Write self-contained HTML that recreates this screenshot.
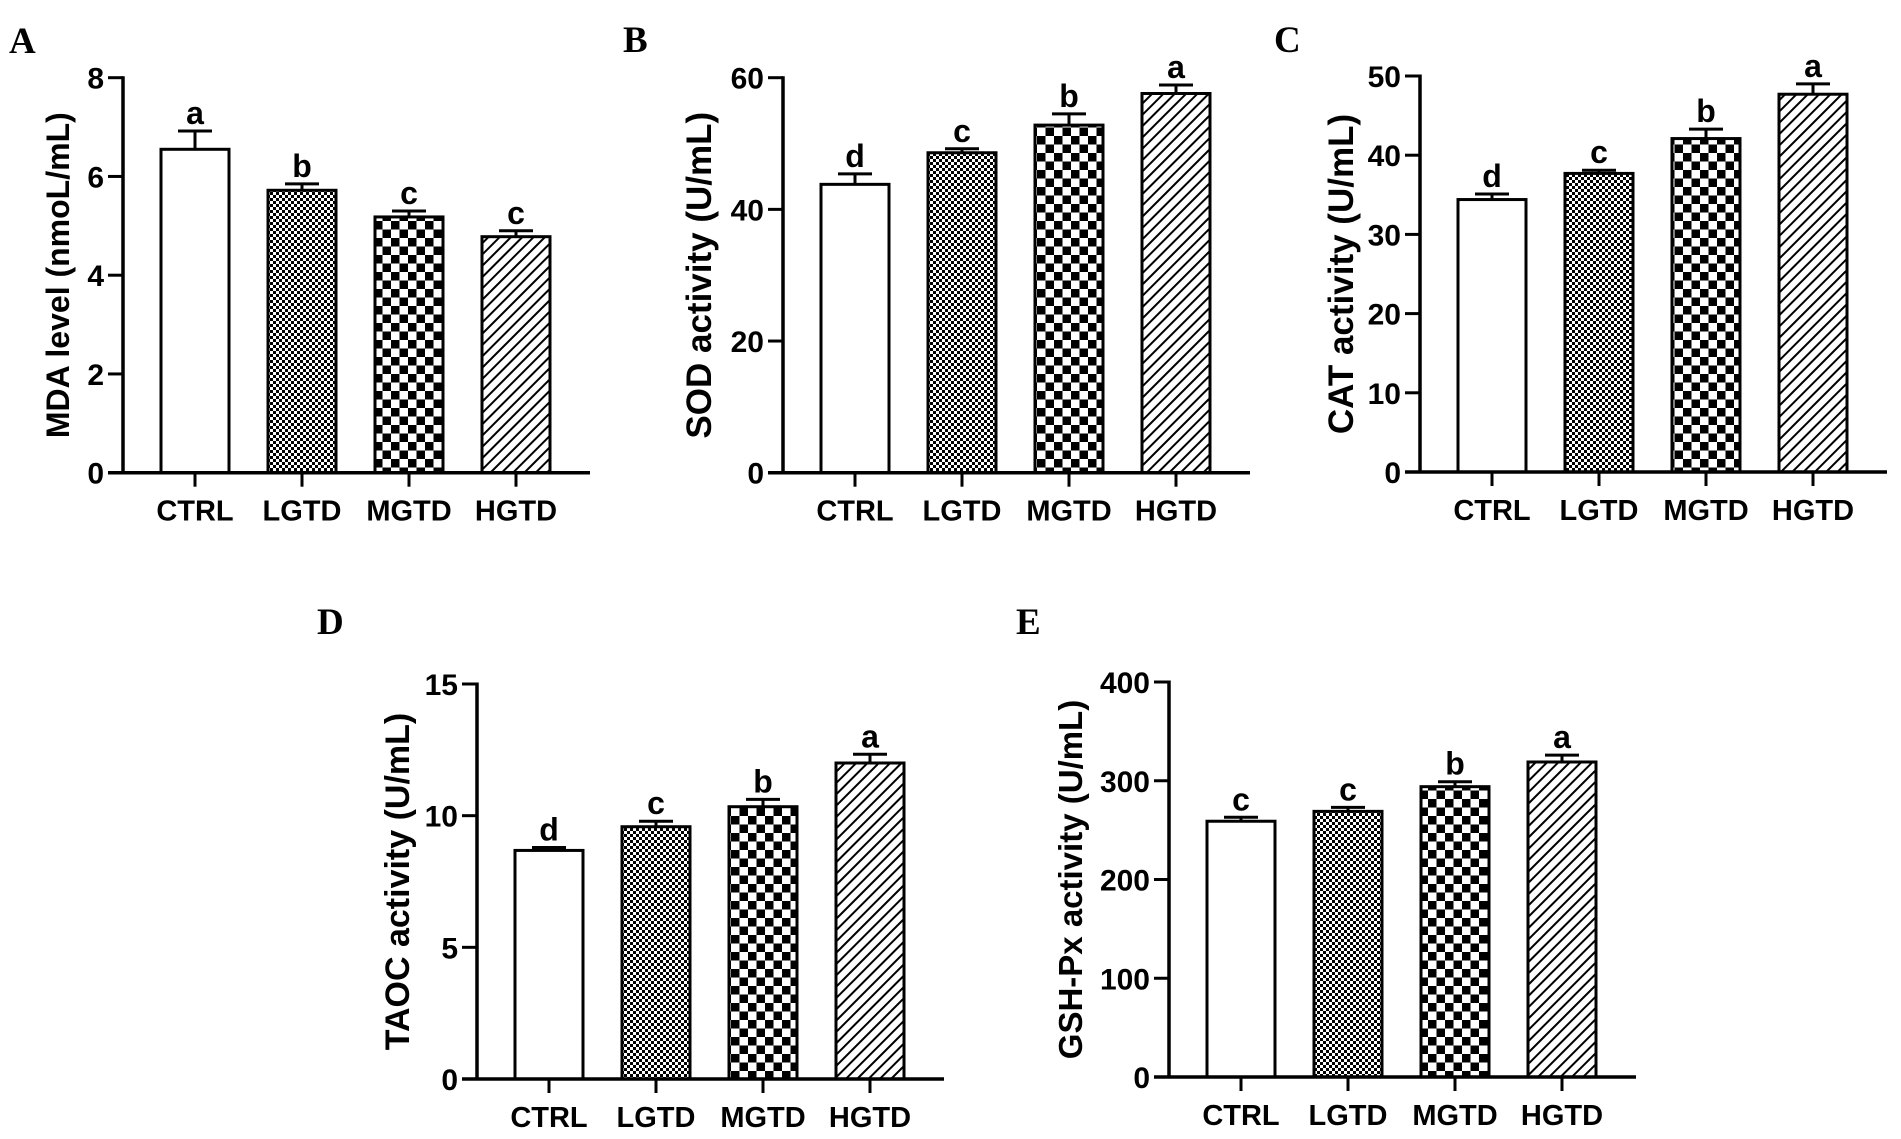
<!DOCTYPE html>
<html><head><meta charset="utf-8">
<style>
html,body{margin:0;padding:0;background:#fff;}
svg{display:block;}
text{font-family:"Liberation Sans",Arial,sans-serif;font-weight:bold;fill:#000;}
.plabel{font-family:"Liberation Serif","Times New Roman",serif;font-weight:bold;font-size:37px;}
</style></head>
<body>
<svg id="fig" width="1901" height="1139" viewBox="0 0 1901 1139" xmlns="http://www.w3.org/2000/svg">
<defs>
<pattern id="fine" width="6" height="6" patternUnits="userSpaceOnUse">
<rect width="6" height="6" fill="#fff"/><rect width="3" height="3" fill="#000"/><rect x="3" y="3" width="3" height="3" fill="#000"/>
</pattern>
<pattern id="coarse" width="17" height="17" patternUnits="userSpaceOnUse">
<rect width="17" height="17" fill="#fff"/><rect width="8.5" height="8.5" fill="#000"/><rect x="8.5" y="8.5" width="8.5" height="8.5" fill="#000"/>
</pattern>
<pattern id="hatch" width="8" height="8" patternUnits="userSpaceOnUse" patternTransform="rotate(45)">
<rect width="8" height="8" fill="#fff"/><rect x="0" y="0" width="2" height="8" fill="#000"/>
</pattern>
</defs>
</svg>
<script>
const categories = ["CTRL","LGTD","MGTD","HGTD"];
const mdaValues = [6.55, 5.72, 5.18, 4.78];
const mdaErrors = [0.37, 0.13, 0.12, 0.12];
const mdaLetters = ["a","b","c","c"];
const mdaTicks = [0,2,4,6,8];
const sodValues = [43.8, 48.6, 52.8, 57.6];
const sodErrors = [1.6, 0.6, 1.7, 1.3];
const sodLetters = ["d","c","b","a"];
const sodTicks = [0,20,40,60];
const catValues = [34.4, 37.7, 42.1, 47.7];
const catErrors = [0.7, 0.4, 1.2, 1.3];
const catLetters = ["d","c","b","a"];
const catTicks = [0,10,20,30,40,50];
const taocValues = [8.68, 9.58, 10.34, 12.0];
const taocErrors = [0.11, 0.21, 0.28, 0.33];
const taocLetters = ["d","c","b","a"];
const taocTicks = [0,5,10,15];
const gshValues = [259, 269, 294, 319];
const gshErrors = [4, 4, 5, 7];
const gshLetters = ["c","c","b","a"];
const gshTicks = [0,100,200,300,400];

const fills = ["#fff","url(#fine)","url(#coarse)","url(#hatch)"];
const NS = "http://www.w3.org/2000/svg";
const svg = document.getElementById('fig');
function mk(tag, attrs, parent){
  const e = document.createElementNS(NS, tag);
  for (const k in attrs) e.setAttribute(k, attrs[k]);
  (parent||svg).appendChild(e);
  return e;
}
function panel(cfg){
  const g = mk('g', {});
  
  
  const ax = cfg.ax, y0 = cfg.y0, yTop = cfg.yTop, max = cfg.ticks[cfg.ticks.length-1];
  const yScale = v => y0 - (v/max)*(y0 - yTop);
  const xCenter = i => ax + 72 + i*107;
  const bw = 68;
  const pl = mk('text', {x: cfg.lx, y: cfg.ly, class:'plabel'}, g);
  pl.textContent = cfg.id;
  
  
  cfg.values.forEach((v,i)=>{
    const cx = xCenter(i), yt = yScale(v), ye = yScale(v + cfg.errors[i]);
    const r = mk('rect', {x: cx-bw/2, y: yt, width: bw, height: y0-yt, fill: fills[i], stroke:'#000', 'stroke-width':3}, g);
    
    
    const eb = mk('path', {d:`M${cx} ${yt} V${ye} M${cx-17} ${ye} H${cx+17}`, stroke:'#000','stroke-width':3, fill:'none'}, g);
    
    
    const lt = mk('text', {x: cx, y: ye-7, 'text-anchor':'middle', 'font-size':32}, g);
    lt.textContent = cfg.letters[i];
    
    
    const tk = mk('line', {x1:cx, x2:cx, y1:y0, y2:y0+14, stroke:'#000','stroke-width':3}, g);
    
    
    const cl = mk('text', {x: cx, y: y0+48, 'text-anchor':'middle', 'font-size':29}, g);
    cl.textContent = categories[i];
    
    
  });
  const yAxis = mk('line', {x1:ax, x2:ax, y1:yTop-1.5, y2:y0+1.5, stroke:'#000','stroke-width':3.5}, g);
  
  
  const xAxis = mk('line', {x1:ax-15, x2:ax+467, y1:y0, y2:y0, stroke:'#000','stroke-width':3.5}, g);
  
  
  cfg.ticks.forEach(t=>{
    const y = yScale(t);
    const tl = mk('line', {x1:ax-15, x2:ax, y1:y, y2:y, stroke:'#000','stroke-width':3}, g);
    
    
    const tt = mk('text', {x: ax-19, y: y+11, 'text-anchor':'end', 'font-size':30}, g);
    tt.textContent = t;
    
    
  });
  const cy = (y0+yTop)/2;
  const ti = mk('text', {x: cfg.tx, y: cy, 'text-anchor':'middle', 'font-size':cfg.tf, transform:`rotate(-90 ${cfg.tx} ${cy})`, dy: 11}, g);
  ti.textContent = cfg.title;
  
  
}
panel({id:'A', ax:123, y0:472.7, yTop:77.7, ticks:mdaTicks, values:mdaValues, errors:mdaErrors, letters:mdaLetters, title:'MDA level (nmoL/mL)', tx:58, lx:9, ly:53, tf:32});
panel({id:'B', ax:783, y0:472.7, yTop:77.7, ticks:sodTicks, values:sodValues, errors:sodErrors, letters:sodLetters, title:'SOD activity (U/mL)', tx:700, lx:623, ly:52, tf:35});
panel({id:'C', ax:1420, y0:472, yTop:76, ticks:catTicks, values:catValues, errors:catErrors, letters:catLetters, title:'CAT activity (U/mL)', tx:1342, lx:1274, ly:52, tf:35});
panel({id:'D', ax:477, y0:1079, yTop:684, ticks:taocTicks, values:taocValues, errors:taocErrors, letters:taocLetters, title:'TAOC activity (U/mL)', tx:398, lx:317, ly:634, tf:34});
panel({id:'E', ax:1169, y0:1077, yTop:682, ticks:gshTicks, values:gshValues, errors:gshErrors, letters:gshLetters, title:'GSH-Px activity (U/mL)', tx:1071, lx:1016, ly:634, tf:33});
</script>
</body></html>
